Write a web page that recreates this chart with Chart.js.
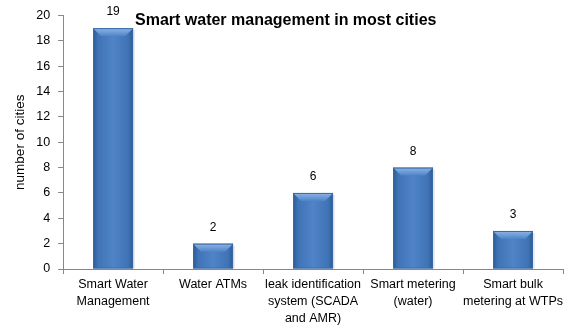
<!DOCTYPE html>
<html><head><meta charset="utf-8">
<script src="https://cdn.jsdelivr.net/npm/chart.js@4/dist/chart.umd.min.js"></script>
<style>html,body{margin:0;padding:0;background:#fff}#wrap{width:573px;height:330px}</style>
</head><body><div id="wrap"><canvas id="c" width="573" height="330"></canvas></div>
<script>
const categories = [["Smart Water","Management"],"Water ATMs",["leak identification","system (SCADA","and AMR)"],["Smart metering","(water)"],["Smart bulk","metering at WTPs"]];
const cityCounts = [19, 2, 6, 8, 3];
const yTicks = [0,2,4,6,8,10,12,14,16,18,20];
const chartTitle = "Smart water management in most cities";
const yTitle = "number of cities";
const FONT = "'Liberation Sans', Arial, sans-serif";

const barStyle = {
  id: 'barStyle',
  afterDatasetsDraw(chart) {
    const ctx = chart.ctx;
    const meta = chart.getDatasetMeta(0);
    meta.data.forEach((bar, i) => {
      const w = bar.width, x0 = bar.x - w/2, x1 = bar.x + w/2, top = bar.y, base = bar.base;
      ctx.save();
      ctx.fillStyle = 'rgba(0,0,0,0.08)';
      ctx.fillRect(x0+2, top+2, w, base-top-2);
      const g = ctx.createLinearGradient(x0, 0, x1, 0);
      g.addColorStop(0, '#2c5a94');
      g.addColorStop(0.12, '#3f73b5');
      g.addColorStop(0.5, '#4f84c8');
      g.addColorStop(0.88, '#3f73b5');
      g.addColorStop(1, '#2c5a94');
      ctx.fillStyle = g;
      ctx.fillRect(x0, top, w, base-top);
      const bh = Math.min(8, (base-top)/2);
      const g2 = ctx.createLinearGradient(0, top, 0, top+bh);
      g2.addColorStop(0, '#8fb6e6');
      g2.addColorStop(1, '#4f84c8');
      ctx.fillStyle = g2;
      ctx.beginPath();
      ctx.moveTo(x0, top); ctx.lineTo(x1, top); ctx.lineTo(x1-bh, top+bh); ctx.lineTo(x0+bh, top+bh); ctx.closePath();
      ctx.fill();
      ctx.strokeStyle = '#3a68a6'; ctx.lineWidth = 1;
      ctx.strokeRect(x0+0.5, top+0.5, w-1, base-top-1);
      ctx.fillStyle = '#000';
      ctx.font = '12px ' + FONT;
      ctx.textAlign = 'center'; ctx.textBaseline = 'middle';
      ctx.fillText(String(cityCounts[i]), bar.x, top - 16);
      ctx.restore();
    });
    ctx.save();
    ctx.fillStyle = '#000';
    ctx.font = 'bold 16px ' + FONT;
    ctx.textAlign = 'left'; ctx.textBaseline = 'middle';
    ctx.fillText(chartTitle, 135, 21);
    ctx.restore();
  }
};

new Chart(document.getElementById('c'), {
  type: 'bar',
  data: { labels: categories, datasets: [{ data: cityCounts, backgroundColor: 'rgba(0,0,0,0)', borderWidth: 0, barPercentage: 0.4, categoryPercentage: 1 }] },
  options: {
    responsive: false, animation: false,
    layout: { padding: { left: 12, right: 10, top: 11, bottom: 1 } },
    plugins: { legend: { display: false }, tooltip: { enabled: false } },
    scales: {
      x: {
        grid: { offset: true, drawOnChartArea: false, tickLength: 5, color: '#888' },
        border: { color: '#888' },
        ticks: { color: '#000', font: { family: FONT, size: 12.5, lineHeight: 1.36 }, maxRotation: 0, autoSkip: false, padding: 2 }
      },
      y: {
        min: 0, max: 20,
        afterBuildTicks(axis) { axis.ticks = yTicks.map(v => ({ value: v })); },
        grid: { drawOnChartArea: false, tickLength: 5, color: '#888' },
        border: { color: '#888' },
        ticks: { color: '#000', font: { family: FONT, size: 12.5 }, padding: 8 },
        title: { display: true, text: yTitle, color: '#000', font: { family: FONT, size: 13.5 }, padding: { top: 0, bottom: 0 } }
      }
    }
  },
  plugins: [barStyle]
});
</script></body></html>
